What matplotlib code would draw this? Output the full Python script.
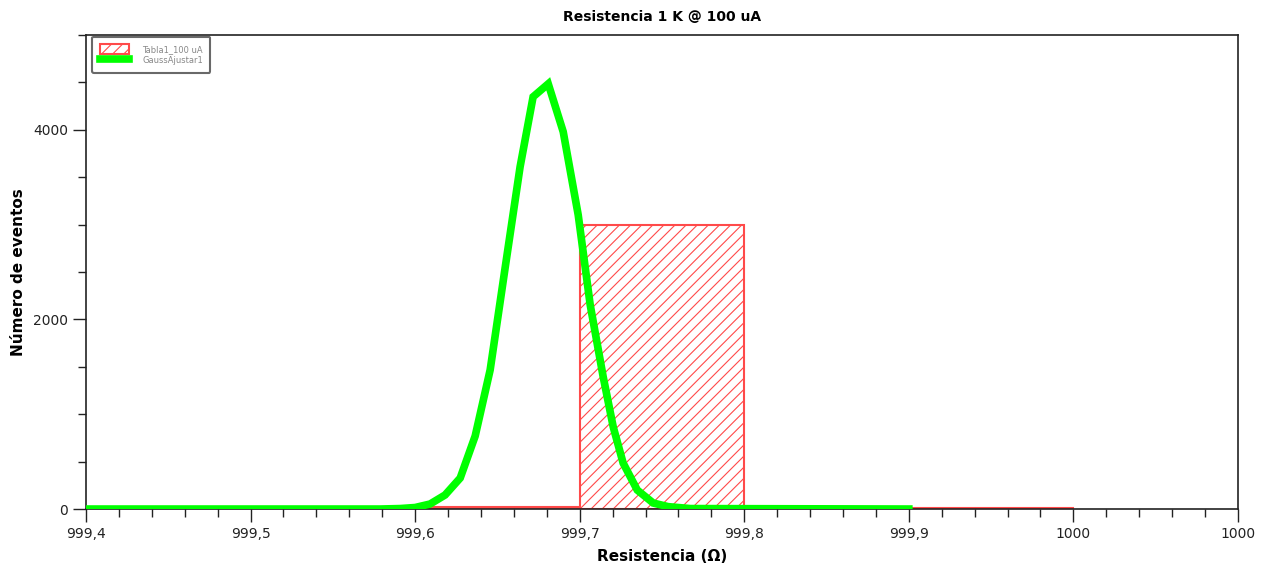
import matplotlib
matplotlib.use("Agg")
import matplotlib.pyplot as plt
from matplotlib.ticker import MultipleLocator, FixedLocator, FixedFormatter

# histogram bins (left edges, width 0.1) and counts
bin_left = [999.6, 999.7, 999.8, 999.9]
bin_count = [20, 3000, 0, 15]

# Gauss fit curve vertices
fit_x = [999.40, 999.5787, 999.5909, 999.6000, 999.6091, 999.6182, 999.6274,
         999.6365, 999.6456, 999.6547, 999.6638, 999.6717, 999.6809, 999.6900,
         999.6991, 999.7064, 999.7143, 999.7204, 999.7264, 999.7350, 999.7447,
         999.7538, 999.7672, 999.90]
fit_y = [0, 0, 5, 16, 53, 148, 327, 770, 1467, 2544, 3610, 4348, 4485, 3979,
         3103, 2153, 1393, 865, 485, 200, 63, 25, 5, 0]

x_ticks = [999.4, 999.5, 999.6, 999.7, 999.8, 999.9, 1000.0, 1000.1]
x_labels = ["999,4", "999,5", "999,6", "999,7", "999,8", "999,9", "1000", "1000"]
y_ticks = [0, 2000, 4000]

plt.rcParams['font.family'] = ['DejaVu Sans']
plt.rcParams['hatch.linewidth'] = 0.8

fig = plt.figure(figsize=(12.68, 5.69), dpi=100)
ax = fig.add_axes([0.0678, 0.1054, 0.9085, 0.8331])

bars = ax.bar(bin_left, bin_count, width=0.1, align='edge', facecolor='none',
              edgecolor='#ff4a4a', linewidth=1.5, hatch='///',
              label='Tabla1_100 uA', zorder=2)
line, = ax.plot(fit_x, fit_y, color='#00ff00', lw=5.5, label='GaussAjustar1', zorder=3,
                solid_joinstyle='miter')

ax.set_xlim(999.4, 1000.1)
ax.set_ylim(0, 5000)
ax.xaxis.set_major_locator(FixedLocator(x_ticks))
ax.xaxis.set_major_formatter(FixedFormatter(x_labels))
ax.xaxis.set_minor_locator(MultipleLocator(0.02))
ax.yaxis.set_major_locator(FixedLocator(y_ticks))
ax.yaxis.set_minor_locator(MultipleLocator(500))
ax.tick_params(which='major', direction='out', length=9.5, width=1, colors='#222222',
               labelsize=10, top=False, right=False)
ax.tick_params(which='minor', direction='out', length=5.5, width=1, colors='#222222',
               top=False, right=False)
for s in ax.spines.values():
    s.set_color('#222222')
    s.set_linewidth(1.2)

ax.set_title('Resistencia 1 K @ 100 uA', fontsize=10, fontweight='bold', pad=10)
ax.set_xlabel('Resistencia (Ω)', fontsize=11, fontweight='bold', labelpad=6)
ax.set_ylabel('Número de eventos', fontsize=11, fontweight='bold', labelpad=5)

leg = ax.legend([bars, line], ['Tabla1_100 uA', 'GaussAjustar1'],
                loc='upper left', fontsize=6, frameon=True, fancybox=True,
                edgecolor='#444444', labelcolor='#888888', handlelength=3.5,
                handleheight=1.5, handletextpad=1.6, borderpad=0.9,
                labelspacing=0.1, borderaxespad=0.2,
                bbox_to_anchor=(0.004, 1.0))
leg.get_frame().set_linewidth(1.5)

fig.savefig('out.png', dpi=100)
